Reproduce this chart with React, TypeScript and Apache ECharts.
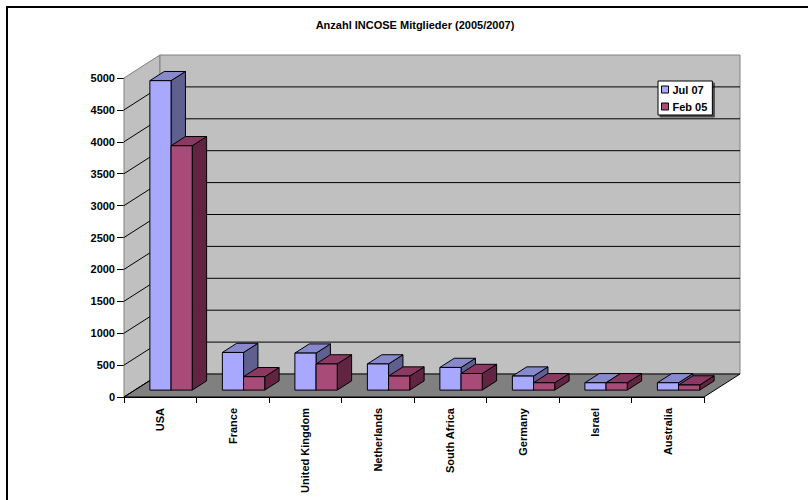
import React, { useEffect, useRef } from "react";
import * as echarts from "echarts";

const titleText = "Anzahl INCOSE Mitglieder (2005/2007)";
const categories = ["USA", "France", "United Kingdom", "Netherlands", "South Africa", "Germany", "Israel", "Australia"];
const seriesNames = ["Jul 07", "Feb 05"];
const jul07 = [4850, 590, 580, 410, 355, 220, 115, 115];
const feb05 = [3830, 210, 410, 220, 260, 115, 115, 80];
const yTicks = [0, 500, 1000, 1500, 2000, 2500, 3000, 3500, 4000, 4500, 5000];

const FONT = "'Liberation Sans', Arial, sans-serif";
const WALL_DX = 36;
const WALL_DY = -23;

const faceColors = [
  { front: "#A8A8FF", top: "#8888CC", side: "#606090" },
  { front: "#A84B78", top: "#8A3A62", side: "#612443" },
];

function wallsRender(params: any, api: any) {
  const cs = params.coordSys;
  const left = cs.x;
  const right = cs.x + cs.width;
  const bottom = cs.y + cs.height;
  const topY = api.coord([0, yTicks[yTicks.length - 1]])[1];
  const children: any[] = [];
  children.push({
    type: "polygon",
    shape: { points: [[left, bottom], [left, topY], [left + WALL_DX, topY + WALL_DY], [left + WALL_DX, bottom + WALL_DY]] },
    style: { fill: "#C0C0C0", stroke: "#808080", lineWidth: 1 },
  });
  children.push({
    type: "polygon",
    shape: { points: [[left + WALL_DX, topY + WALL_DY], [right + WALL_DX, topY + WALL_DY], [right + WALL_DX, bottom + WALL_DY], [left + WALL_DX, bottom + WALL_DY]] },
    style: { fill: "#C0C0C0", stroke: "#808080", lineWidth: 1 },
  });
  children.push({
    type: "polygon",
    shape: { points: [[left, bottom], [right, bottom], [right + WALL_DX, bottom + WALL_DY], [left + WALL_DX, bottom + WALL_DY]] },
    style: { fill: "#808080", stroke: "#000", lineWidth: 1 },
  });
  for (let k = 1; k < yTicks.length - 1; k++) {
    const y = api.coord([0, yTicks[k]])[1];
    children.push({
      type: "polyline",
      shape: { points: [[left, y], [left + WALL_DX, y + WALL_DY], [right + WALL_DX, y + WALL_DY]] },
      style: { fill: null, stroke: "#000", lineWidth: 1 },
    });
  }
  children.push({
    type: "line",
    shape: { x1: left, y1: bottom, x2: left + WALL_DX, y2: bottom + WALL_DY },
    style: { stroke: "#000", lineWidth: 1 },
  });
  return { type: "group", children };
}

function makeBarRender(sIdx: number) {
  return (params: any, api: any) => {
    const cat = api.value(0);
    const v = api.value(1);
    const base = api.coord([cat, 0]);
    const top = api.coord([cat, v]);
    const bw = api.size([1, 0])[0];
    const w = bw * 0.292;
    const fx = WALL_DX * 0.3;
    const fy = WALL_DY * 0.3;
    const dx = WALL_DX * 0.4;
    const dy = WALL_DY * 0.4;
    const x0 = base[0] + fx + (sIdx === 0 ? -w : 0);
    const x1 = x0 + w;
    const yb = base[1] + fy;
    const yt = top[1] + fy;
    const c = faceColors[sIdx];
    const st = (fill: string) => ({ fill, stroke: "#000", lineWidth: 1, lineJoin: "round" });
    return {
      type: "group",
      children: [
        { type: "polygon", shape: { points: [[x1, yt], [x1 + dx, yt + dy], [x1 + dx, yb + dy], [x1, yb]] }, style: st(c.side) },
        { type: "polygon", shape: { points: [[x0, yt], [x1, yt], [x1 + dx, yt + dy], [x0 + dx, yt + dy]] }, style: st(c.top) },
        { type: "polygon", shape: { points: [[x0, yt], [x1, yt], [x1, yb], [x0, yb]] }, style: st(c.front) },
      ],
    };
  };
}

export default function App() {
  const ref = useRef<HTMLDivElement>(null);
  useEffect(() => {
    if (!ref.current) return;
    const chart = echarts.init(ref.current, null, { renderer: "svg" });
    const labelStyle = { fontFamily: FONT, fontSize: 11, fontWeight: "bold", color: "#000" };
    chart.setOption({
      animation: false,
      backgroundColor: "#fff",
      title: {
        text: titleText,
        left: 415,
        top: 19,
        textAlign: "center",
        padding: 0,
        textStyle: { ...labelStyle },
      },
      legend: {
        orient: "vertical",
        left: 658,
        top: 81,
        padding: [2, 5, 2, 3],
        itemGap: 4,
        itemWidth: 7,
        itemHeight: 7,
        icon: "rect",
        itemStyle: { borderColor: "#000", borderWidth: 1 },
        backgroundColor: "#fff",
        borderColor: "#000",
        borderWidth: 1,
        shadowColor: "rgba(0,0,0,0.6)",
        shadowOffsetX: 2,
        shadowOffsetY: 2,
        shadowBlur: 0,
        selectedMode: false,
        textStyle: { ...labelStyle, lineHeight: 13, padding: [0, 0, 0, -1] },
        data: [
          { name: seriesNames[0], itemStyle: { color: faceColors[0].front, borderColor: "#000", borderWidth: 1 } },
          { name: seriesNames[1], itemStyle: { color: faceColors[1].front, borderColor: "#000", borderWidth: 1 } },
        ],
      },
      graphic: [
        {
          type: "rect",
          shape: { x: 7, y: 7, width: 900, height: 700 },
          style: { fill: null, stroke: "#000", lineWidth: 2 },
          z: 100,
        },
      ],
      grid: { left: 124, right: 104, top: 78, bottom: 103 },
      xAxis: {
        type: "category",
        data: categories,
        boundaryGap: true,
        axisLine: { show: true, lineStyle: { color: "#000", width: 1 } },
        axisTick: { show: true, length: 6, lineStyle: { color: "#000" } },
        axisLabel: { ...labelStyle, rotate: 90, interval: 0, margin: 11 },
        splitLine: { show: false },
      },
      yAxis: {
        type: "value",
        min: 0,
        max: 5000,
        interval: 500,
        axisLine: { show: true, lineStyle: { color: "#000", width: 1 } },
        axisTick: { show: true, length: 7, lineStyle: { color: "#000" } },
        axisLabel: { ...labelStyle, margin: 9, formatter: (v: number) => String(v) },
        splitLine: { show: false },
      },
      series: [
        {
          type: "custom",
          name: "walls",
          silent: true,
          z: 1,
          renderItem: wallsRender,
          data: [[0, 0]],
        },
        {
          type: "custom",
          name: seriesNames[0],
          z: 3,
          itemStyle: { color: faceColors[0].front },
          renderItem: makeBarRender(0),
          data: categories.map((_, i) => [i, jul07[i]]),
        },
        {
          type: "custom",
          name: seriesNames[1],
          z: 4,
          itemStyle: { color: faceColors[1].front },
          renderItem: makeBarRender(1),
          data: categories.map((_, i) => [i, feb05[i]]),
        },
      ],
    });
    return () => chart.dispose();
  }, []);
  return <div ref={ref} style={{ position: "fixed", left: 0, top: 0, width: 808, height: 500 }} />;
}
